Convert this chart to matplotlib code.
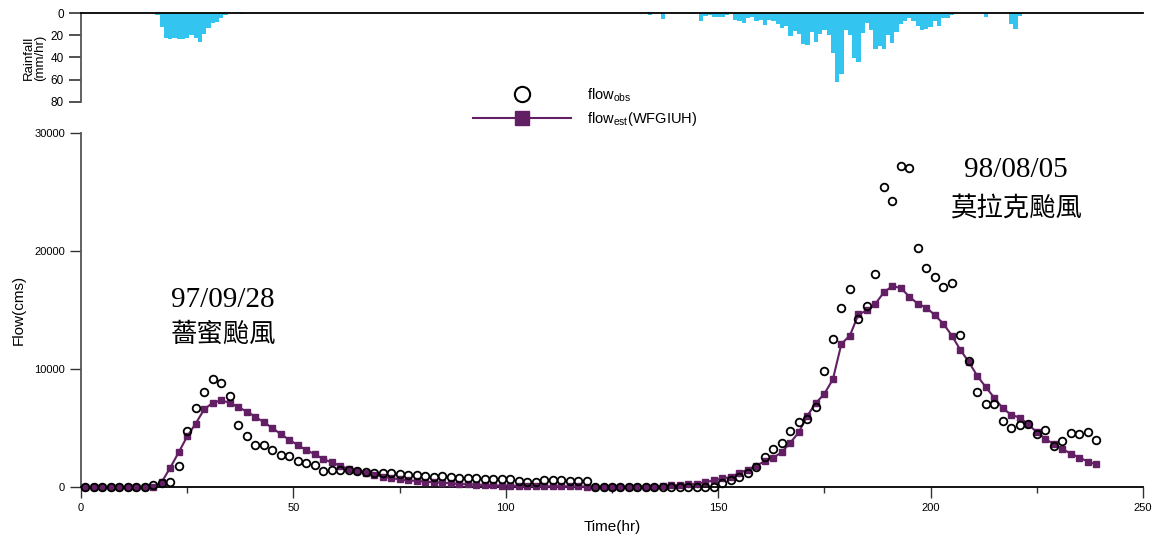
import matplotlib
matplotlib.use('Agg')
import matplotlib.pyplot as plt
from matplotlib.lines import Line2D
import numpy as np

plt.rcParams['font.family'] = ['Liberation Sans', 'DejaVu Sans']
plt.rcParams['mathtext.fontset'] = 'custom'
plt.rcParams['mathtext.rm'] = 'Liberation Sans'

# 流量資料 (每2小時)
hours = np.arange(1, 240, 2)

flow_obs = [30, 30, 30, 30, 30, 30, 30, 30, 200, 300,
            450, 1820, 4760, 6720, 8070, 9190, 8800, 7700, 5240, 4340,
            3560, 3560, 3140, 2750, 2610, 2240, 2020, 1880, 1350, 1460,
            1460, 1460, 1320, 1240, 1180, 1210,
            1210, 1100, 1040, 980, 930, 870, 930, 840, 790, 730,
            730, 680, 700, 650, 650, 510, 450, 420, 620, 620,
            560, 510, 510, 510,
            40, 40, 40, 40, 40, 40, 40, 40,
            20, 20, 20, 20, 20, 20, 20,
            370, 560, 870, 1150, 1700,
            2520, 3250, 3730, 4740, 5550, 5770, 6750, 9800, 12520, 15150,
            16800, 14230, 15320, 18040, 25400, 24220, 27190, 27020, 20280, 18600,
            17780, 16940, 17250, 12880, 10700, 8070, 7030, 7000, 5580, 5020,
            5270, 5300, 4480, 4820, 3500, 3920, 4540, 4480, 4620, 3950]

flow_est = [0, 0, 0, 0, 0, 0, 0, 0, 0,
            420, 1630, 2940, 4290, 5380, 6580, 7140, 7340, 7140, 6780,
            6390, 5970, 5490, 5020, 4480, 4010, 3560, 3140, 2780, 2380,
            2080, 1820, 1520, 1320, 1180, 1040, 880,
            760, 650, 560, 510, 450, 400, 370, 310, 255, 230,
            200, 170, 140, 115, 115, 90, 90, 90, 60, 60,
            60, 60, 60, 30,
            30, 30, 30, 30, 30, 30, 30, 30,
            115, 140, 170, 230, 280, 420, 560, 730, 840, 1210, 1460, 1820,
            2190, 2470, 2970, 3760, 4650, 6050, 7120, 7900, 9130, 12130,
            12830, 14620, 14960, 15520, 16500, 17030, 16860, 16130, 15520, 15210,
            14560, 13840, 12830, 11620, 10590, 9410, 8460, 7560, 6670, 6110,
            5880, 5300, 4650, 4090, 3620, 3220, 2830, 2500, 2160, 1910]

# 雨量資料 (每小時)
rain_hr = [18, 19, 20, 21, 22, 23, 24, 25, 26, 27, 28, 29, 30, 31, 32, 33, 34, 38,
           134, 137, 144, 146, 147, 148, 149, 150, 151, 152, 154, 155, 156, 157,
           158, 159, 160, 161, 162, 163, 164, 165, 166, 167, 168, 169, 170, 171,
           172, 173, 174, 175, 176, 177, 178, 179, 180, 181, 182, 183, 184, 185,
           186, 187, 188, 189, 190, 191, 192, 193, 194, 195, 196, 197, 198, 199,
           200, 201, 202, 203, 204, 205, 213, 219, 220, 221]
rain_mm = [1.3, 12, 22, 23, 22, 23, 23, 22, 20, 22, 26, 19, 13.5, 9, 7.5, 4.3, 1.5, 1,
           1.2, 5.2, 1, 6.7, 2.2, 1.5, 3, 3, 3, 1.5, 6, 7, 8.5, 4,
           3.4, 6.7, 6, 10.3, 5.7, 7, 9.7, 13, 11.5, 20.3, 16, 18.5, 27.6, 28.5,
           17, 25.8, 18.8, 15.2, 19.4, 35.8, 62.2, 54.9, 15.2, 19.4, 40.4, 44, 17.9, 8.8,
           15.2, 32.2, 29.4, 32.2, 19.7, 26.7, 17, 9.7, 7, 4.3, 7, 11.2, 14.9, 14.3,
           12.5, 7, 11.2, 4.3, 4, 1.2, 3, 9.7, 14.3, 2.2]

purple = '#621F63'
blue = '#34C4F0'
W, H = 1155, 537

fig = plt.figure(figsize=(W / 100, H / 100), dpi=100)
ax = fig.add_axes([81 / W, 50 / H, 1062 / W, 354 / H])
axr = fig.add_axes([81 / W, 435.3 / H, 1062 / W, 88.4 / H])

# 主圖: 流量
ax.plot(hours, flow_est, '-s', color=purple, lw=1.5, ms=4.3, mec=purple, zorder=3, clip_on=False)
ax.plot(hours, flow_obs, 'o', mfc='none', mec='black', mew=1.3, ms=5.5, zorder=4, clip_on=False)

ax.set_xlim(0, 250)
ax.set_ylim(0, 30000)
ax.set_xticks([0, 50, 100, 150, 200, 250])
ax.set_xticks([25, 75, 125, 175, 225], minor=True)
ax.set_yticks([0, 10000, 20000, 30000])
ax.tick_params(axis='both', direction='out', labelsize=8, width=1, length=8, colors='#333333')
ax.tick_params(axis='x', which='minor', direction='out', length=4, width=1, colors='#333333')
ax.tick_params(axis='both', labelcolor='black')
for s in ['top', 'right']:
    ax.spines[s].set_visible(False)
ax.spines['left'].set_color('#555555')
ax.spines['bottom'].set_color('black')
ax.spines['left'].set_linewidth(1.3)
ax.spines['bottom'].set_linewidth(1.3)
ax.set_xlabel('Time(hr)', fontsize=11, labelpad=5)
ax.set_ylabel('Flow(cms)', fontsize=11, labelpad=6)

# 颱風標示
cjk = ['Liberation Serif', 'Noto Sans CJK TC']
ax.text(33.5, 15850, '97/09/28', fontsize=21, family=cjk, ha='center', va='center')
ax.text(33.5, 12950, '薔蜜颱風', fontsize=19, family=cjk, ha='center', va='center')
ax.text(220, 26850, '98/08/05', fontsize=21, family=cjk, ha='center', va='center')
ax.text(220, 23600, '莫拉克颱風', fontsize=19, family=cjk, ha='center', va='center')

# 雨量圖
axr.bar(rain_hr, rain_mm, width=1.0, color=blue, linewidth=0)
axr.set_xlim(0, 250)
axr.set_ylim(80, 0)
axr.set_yticks([0, 20, 40, 60, 80])
axr.set_xticks([])
axr.tick_params(axis='y', direction='out', length=9, width=1.2, labelsize=8.5, colors='#333333', labelcolor='black')
for s in ['bottom', 'right']:
    axr.spines[s].set_visible(False)
axr.spines['top'].set_color('black')
axr.spines['top'].set_linewidth(1.3)
axr.spines['left'].set_color('#555555')
axr.spines['left'].set_linewidth(1.3)
axr.set_ylabel('Rainfall\n(mm/hr)', fontsize=9.5, labelpad=3, linespacing=0.95)
axr.patch.set_alpha(0)

# 圖例
h_obs = Line2D([], [], marker='o', ls='none', mfc='none', mec='black', mew=1.5, ms=11)
h_est = Line2D([], [], marker='s', ls='-', color=purple, lw=1.5, ms=10, mec=purple)
fig.legend([h_obs, h_est], ['flow$_{\\mathrm{obs}}$', 'flow$_{\\mathrm{est}}$(WFGIUH)'],
           loc='upper left', bbox_to_anchor=(466 / W, (H - 79) / H), frameon=False,
           fontsize=10.5, handlelength=6.7, handletextpad=1.1, labelspacing=0.4, borderpad=0)

fig.savefig('out.png', dpi=100)
